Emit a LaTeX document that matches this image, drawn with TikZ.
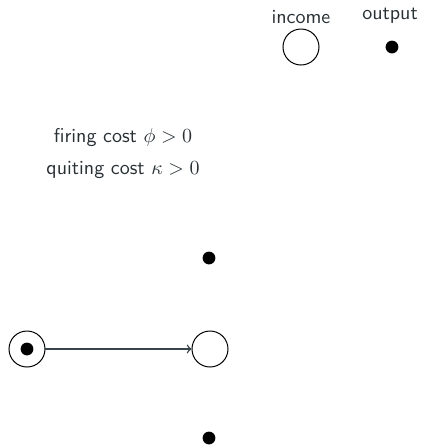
\documentclass[tikz,border=0pt]{standalone}
\usetikzlibrary{arrows}
\definecolor{txt}{RGB}{40,48,52}
\definecolor{ln}{RGB}{55,68,74}
\begin{document}
\begin{tikzpicture}[x=0.5pt,y=-0.5pt,
  every node/.style={font=\sffamily, text=txt},
  ring/.style={circle, draw=black, line width=0.5pt, minimum size=18pt, inner sep=0pt},
  dot/.style={circle, fill=black, minimum size=6.4pt, inner sep=0pt},
  lbl/.style={anchor=base, inner sep=0pt}]
\useasboundingbox (0,0) rectangle (422,446);
\node[lbl] (inclbl) at (301,23) {income};
\node[lbl] (outlbl) at (390,19) {output};
\node[ring] (inc) at (301,47) {};
\node[dot] (out) at (392,47) {};
\node[lbl] (t1) at (123,142) {firing cost $\phi > 0$};
\node[lbl] (t2) at (123,174) {quiting cost $\kappa > 0$};
\node[dot] (dtop) at (209,258) {};
\node[ring] (L) at (27,349) {};
\node[dot] (Ldot) at (27,349) {};
\node[ring] (R) at (210,349) {};
\node[dot] (dbot) at (209,438) {};
\draw[->, >=to, draw=ln, line width=0.7pt] (L) -- (R);
\end{tikzpicture}
\end{document}
